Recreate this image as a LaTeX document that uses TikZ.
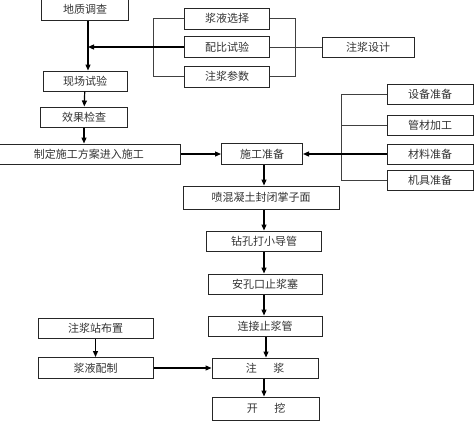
\documentclass[tikz,border=0pt]{standalone}
\usepackage{fontspec}
\newfontfamily\cjk{Noto Sans CJK SC}
\usepackage{tikz}
\usetikzlibrary{arrows.meta, calc}
\usepackage{xcolor}

\begin{document}
\begin{tikzpicture}[x=1pt, y=-1pt,
    box/.style={draw=black!85, line width=1pt, fill=white, inner sep=0pt,
        minimum height=20pt, font=\cjk\fontsize{11}{13}\selectfont, text=black!80},
    link/.style={draw=black!75, line width=0.9pt},
    arr/.style={draw=black, line width=1.2pt, -{Triangle[length=6pt,width=5pt]}}]
    \useasboundingbox (0,0) rectangle (474,421);
    % Left column
    \node[box, minimum width=87pt, minimum height=30pt] (geo) at (85,5) {};
    \node[font=\cjk\fontsize{11}{13}\selectfont, text=black!80] (geotext) at (85,9) {地质调查};
    \node[box, minimum width=84pt] (site) at (85,81) {现场试验};
    \node[box, minimum width=87pt] (check) at (84,117) {效果检查};
    \node[box, minimum width=183pt] (plan) at (89,154) {制定施工方案进入施工};
    % Grout design
    \node[box, minimum width=85pt, minimum height=21pt] (sel) at (227,18.5) {浆液选择};
    \node[box, minimum width=85pt, minimum height=21pt] (ratio) at (227,47) {配比试验};
    \node[box, minimum width=85pt, minimum height=21pt] (para) at (227,76.5) {注浆参数};
    \node[box, minimum width=92pt] (design) at (368,47) {注浆设计};
    % Preparation
    \node[box, minimum width=86pt] (equip) at (430,94) {设备准备};
    \node[box, minimum width=86pt] (tube) at (430,125) {管材加工};
    \node[box, minimum width=86pt] (mat) at (430,154) {材料准备};
    \node[box, minimum width=86pt] (tool) at (430,180) {机具准备};
    % Main column
    \node[box, minimum width=81pt, minimum height=21pt] (prep) at (262,154) {施工准备};
    \node[box, minimum width=156pt, minimum height=23pt] (shot) at (261,197.5) {喷混凝土封闭掌子面};
    \node[box, minimum width=115pt] (drill) at (264,241) {钻孔打小导管};
    \node[box, minimum width=114pt] (plug) at (265,284) {安孔口止浆塞};
    \node[box, minimum width=114pt] (pipe) at (265,326) {连接止浆管};
    \node[box, minimum width=106pt] (grout) at (265,368) {注\hspace{1.5em}浆};
    \node[box, minimum width=107pt, minimum height=23pt] (dig) at (266,408.5) {开\hspace{1.5em}挖};
    % Grout station
    \node[box, minimum width=115pt] (station) at (95.5,328) {注浆站布置};
    \node[box, minimum width=115pt, minimum height=21pt] (mix) at (95.5,368) {浆液配制};

    % Brackets
    \draw[link] (sel.west) -- ++(-31,0) |- (para.west);
    \draw[link] (sel.east) -- ++(25,0) |- (para.east);
    \draw[link] (ratio.east) -- (design.west);
    \draw[link] (equip.west) -- ++(-45,0) coordinate (bus) |- (tool.west);
    \draw[link] (tube.west) -- (tube.west -| bus);

    % Arrows
    \draw[arr] (geo.south -| 88,0) -- (site.north -| 88,0);
    \draw[arr] (ratio.west) -- (ratio.west -| 88,0);
    \draw[arr] (site) -- (check);
    \draw[arr] (check) -- (plan.north -| check);
    \draw[arr] (plan) -- (prep);
    \draw[arr] (mat) -- (prep);
    \draw[arr] (prep.south -| 264,0) -- (shot.north -| 264,0);
    \draw[arr] (shot.south -| 264,0) -- (drill.north -| 264,0);
    \draw[arr] (drill.south -| 264,0) -- (plug.north -| 264,0);
    \draw[arr] (plug.south -| 264,0) -- (pipe.north -| 264,0);
    \draw[arr] (pipe.south -| 266,0) -- (grout.north -| 266,0);
    \draw[arr] (grout.south -| 264,0) -- (dig.north -| 264,0);
    \draw[arr] (station) -- (mix);
    \draw[arr] (mix) -- (grout);
\end{tikzpicture}
\end{document}
